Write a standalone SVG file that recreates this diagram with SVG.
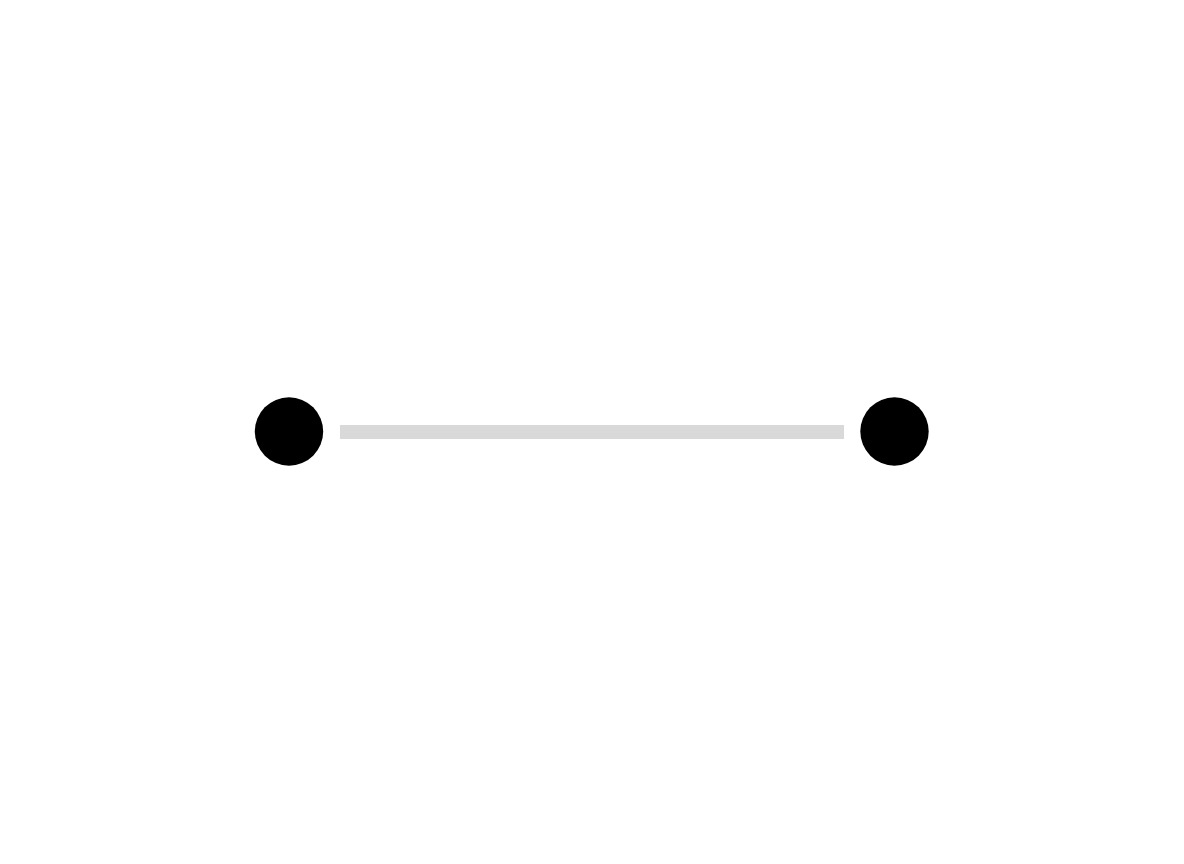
<svg xmlns="http://www.w3.org/2000/svg" width="1184" height="864" viewBox="0 0 1184 864">
<style>
.node{fill:#000000}
.edge{stroke:#d9d9d9;stroke-width:14;fill:none}
</style>
<rect width="1184" height="864" fill="#ffffff"/>
<g id="connectors">
<line class="edge" x1="340" y1="432" x2="844" y2="432"/>
</g>
<g id="node-left">
<circle class="node" cx="289" cy="431.5" r="34.2"/>
</g>
<g id="node-right">
<circle class="node" cx="894.5" cy="431.5" r="34.2"/>
</g>
</svg>
